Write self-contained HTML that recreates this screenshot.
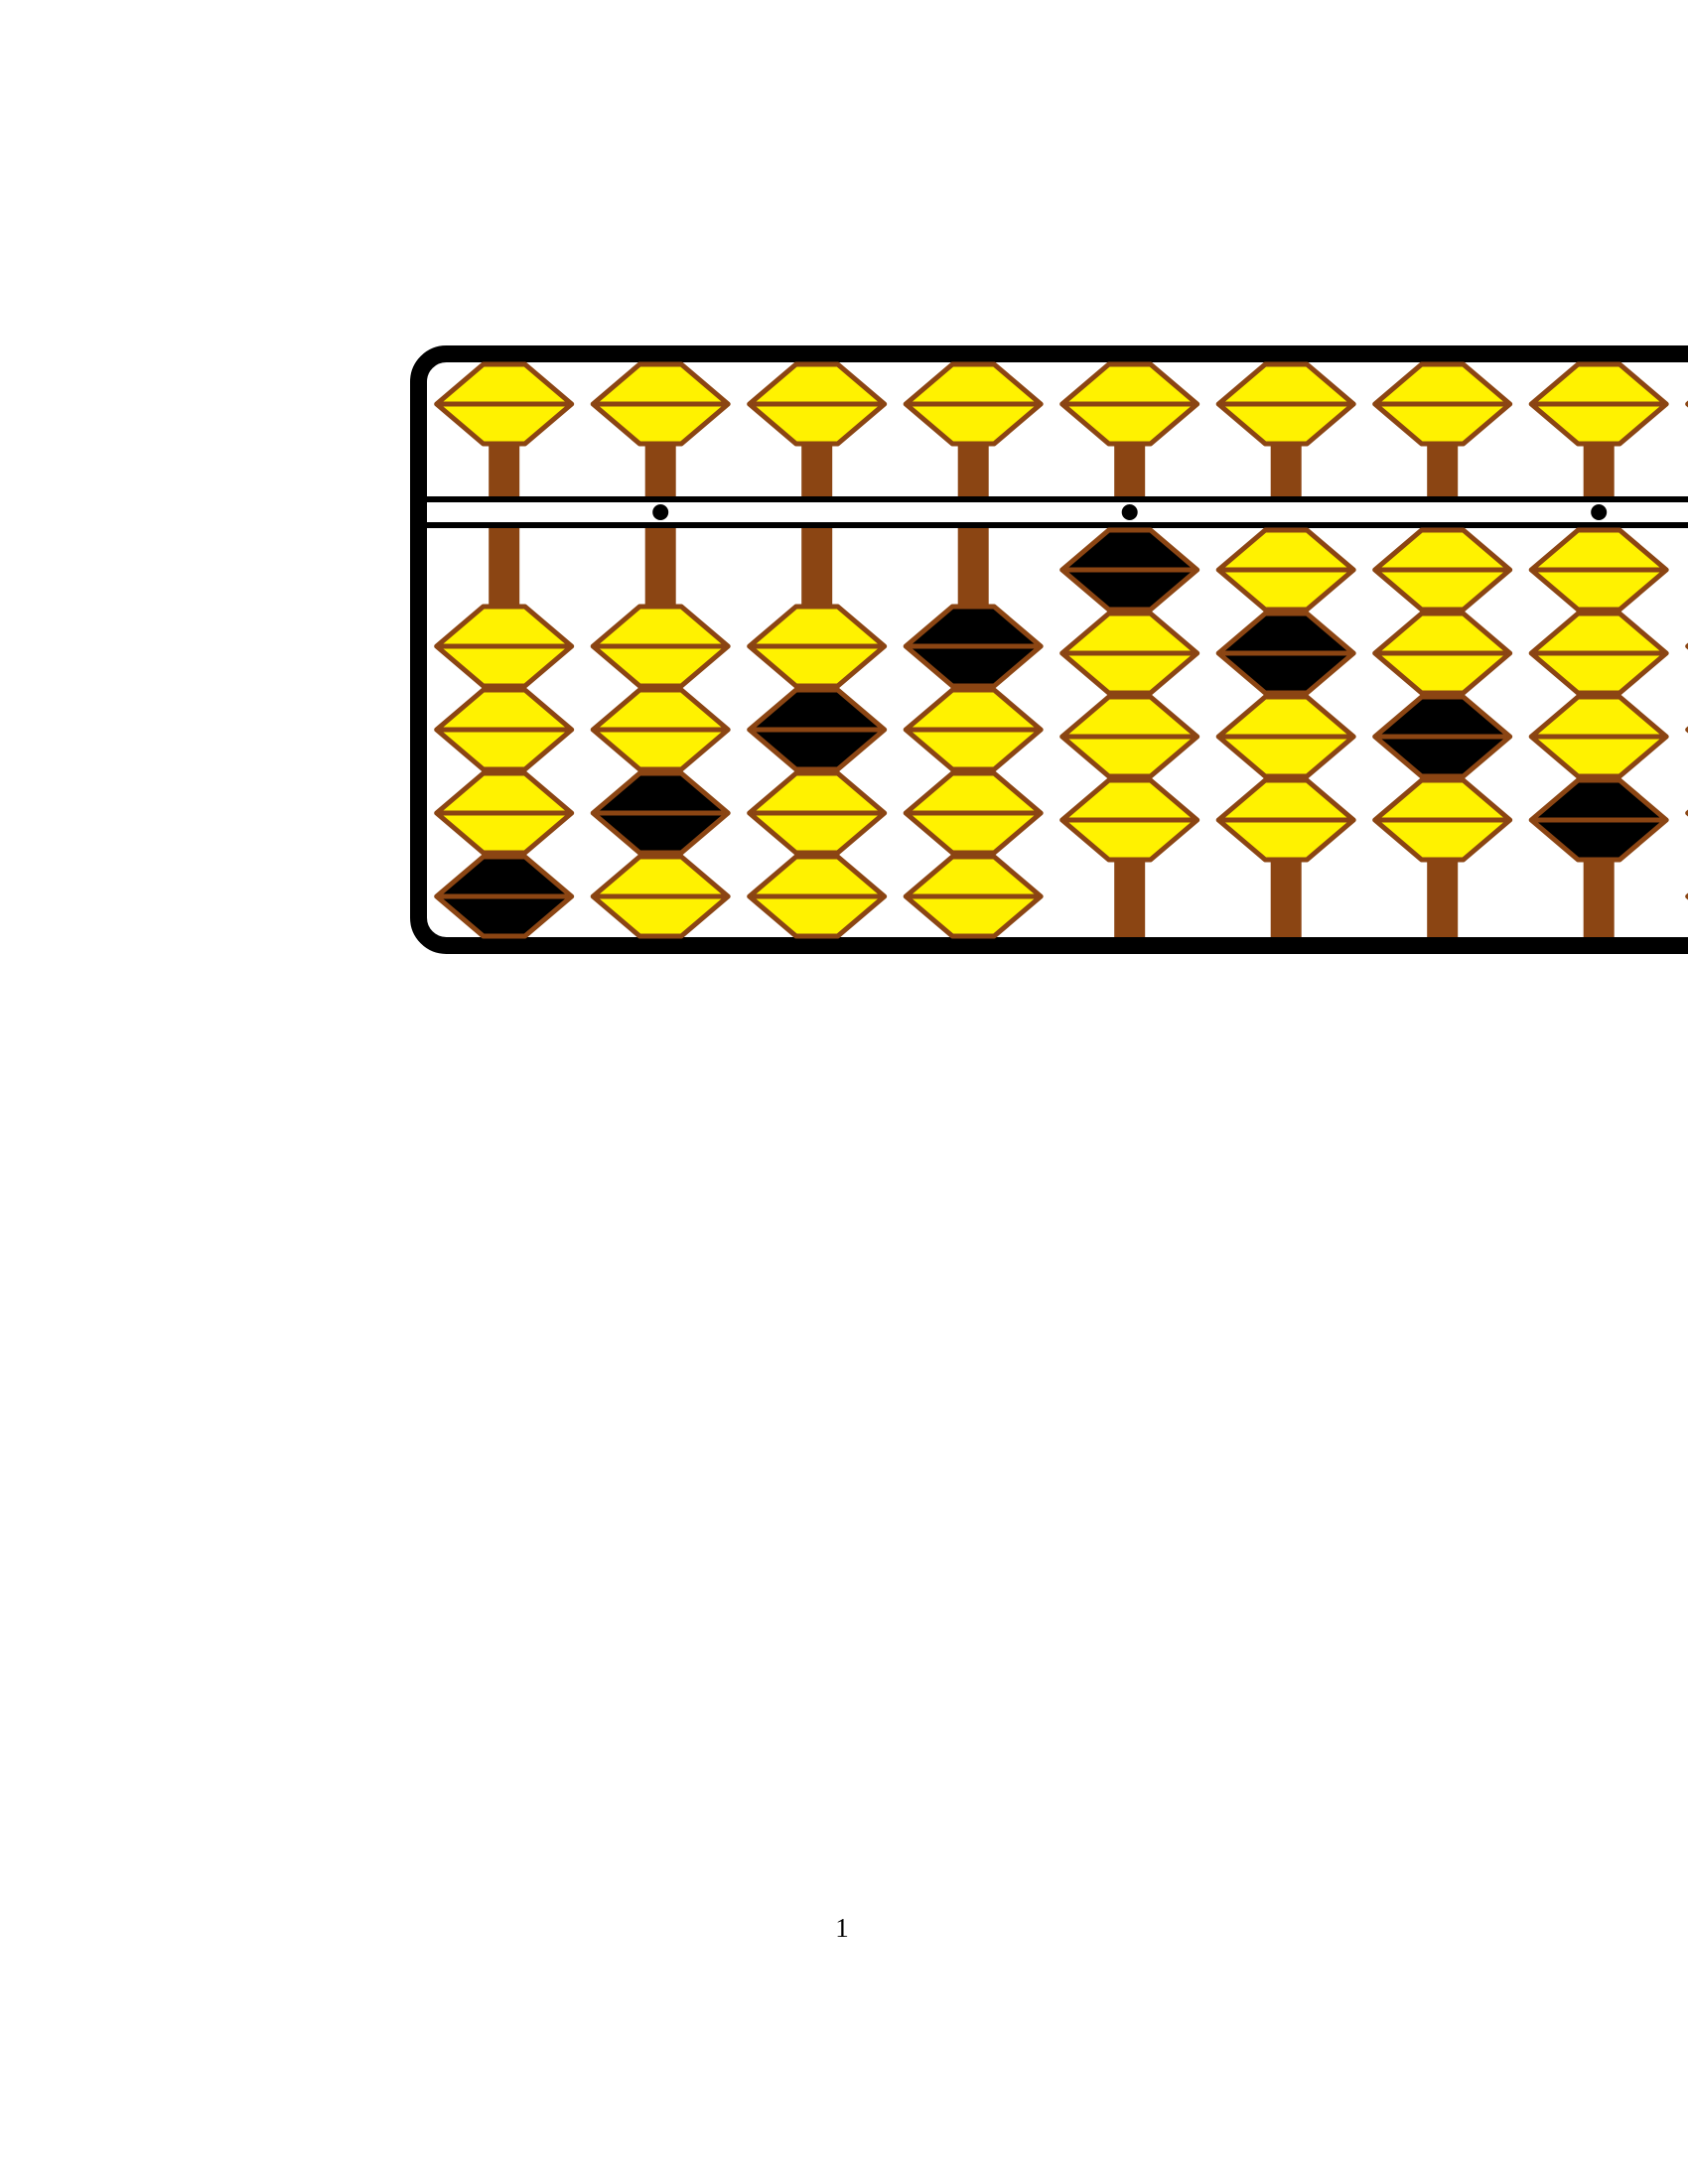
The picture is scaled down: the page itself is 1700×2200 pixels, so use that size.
<!DOCTYPE html>
<html><head><meta charset="utf-8"><style>
html,body{margin:0;padding:0;background:#fff;}
svg{display:block;}
</style></head><body>
<svg id="abacus" width="1700" height="2200" viewBox="0 0 1700 2200" xmlns="http://www.w3.org/2000/svg">
<g id="rods"></g>
<g id="frame-g">
<rect x="421.5" y="356.5" width="1400" height="596" rx="28" fill="none" stroke="#000" stroke-width="17"/>
<line x1="428" y1="503" x2="1700" y2="503" stroke="#000" stroke-width="6"/>
<line x1="428" y1="529" x2="1700" y2="529" stroke="#000" stroke-width="6"/>
</g>
<g id="beads"></g>
<text x="848" y="1951" font-family="'Liberation Serif', serif" font-size="27" text-anchor="middle">1</text>
</svg>
<script>
// data: earth beads moved up per column, heaven bead moved down, highlighted (black) earth bead index, unit dots
const columns = [0,1,2,3,4,5,6,7,8];
const earthUp = [0,0,0,0,4,4,4,4,0];
const heavenDown = [0,0,0,0,0,0,0,0,0];
const blackBead = [3,2,1,0,0,1,2,3,-1];
const unitDots = [1,4,7];

const NS='http://www.w3.org/2000/svg';
const X0=507.7, DX=157.5, BW=68, BF=21, BH=84;
const colX = i => X0 + DX*i;
const rodsG=document.getElementById('rods'), beadsG=document.getElementById('beads');
function mk(tag,attrs,parent){const e=document.createElementNS(NS,tag);for(const k in attrs)e.setAttribute(k,attrs[k]);parent.appendChild(e);return e;}
function bead(cx,top,black,parent,name){
  const m=top+BH/2, b=top+BH;
  const g=mk('g',{},parent);
  
  
  mk('polygon',{points:`${cx-BW},${m} ${cx-BF},${top+2} ${cx+BF},${top+2} ${cx+BW},${m} ${cx+BF},${b-2} ${cx-BF},${b-2}`,fill:black?'#000':'#fff200',stroke:'#8b4513','stroke-width':5,'stroke-linejoin':'round'},g);
  mk('line',{x1:cx-BW+3,y1:m,x2:cx+BW-3,y2:m,stroke:'#8b4513','stroke-width':5},g);
}
columns.forEach(i=>{
  const cx=colX(i);
  const r1=mk('rect',{x:cx-15.5,y:365,width:31,height:136,fill:'#8b4513'},rodsG);
  
  
  const r2=mk('rect',{x:cx-15.5,y:530,width:31,height:414,fill:'#8b4513'},rodsG);
  
  
  const hTop = heavenDown[i] ? 415 : 365;
  bead(cx,hTop,false,beadsG,'heaven-bead');
  const up=earthUp[i];
  for(let k=0;k<4;k++){
    let top;
    if(k<up) top=532+BH*k;
    else top=945-BH*(4-k);
    bead(cx,top,blackBead[i]===k,beadsG,'earth-bead');
  }
});
unitDots.forEach(i=>{
  const d=mk('circle',{cx:colX(i),cy:516,r:8,fill:'#000'},beadsG);
  
  
});
</script>
</body></html>
